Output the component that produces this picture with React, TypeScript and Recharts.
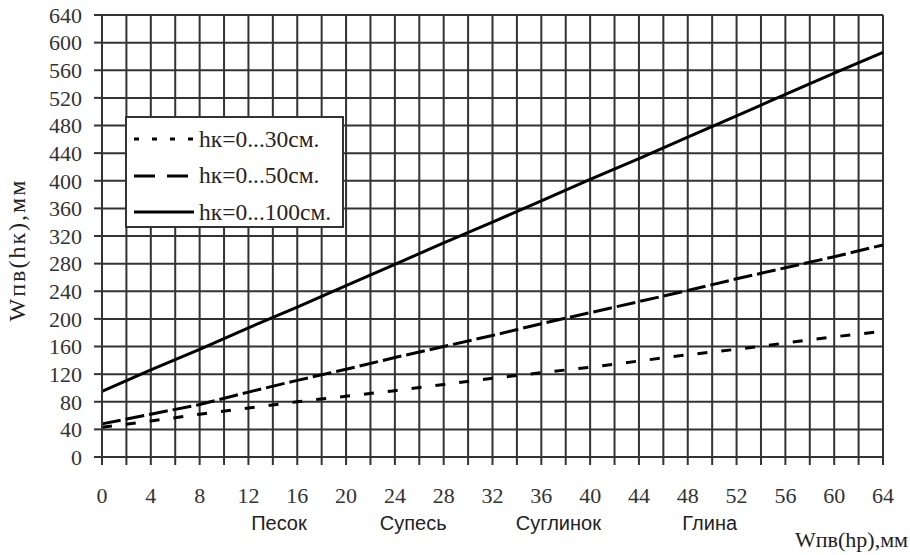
import React from "react";
import {
  LineChart,
  Line,
  XAxis,
  YAxis,
  CartesianGrid,
} from "recharts";

// x values (Wпв(hр), мм) where the curves were read
const xValues = [0, 4, 8, 12, 16, 20, 24, 28, 32, 36, 40, 44, 48, 52, 56, 60, 64];
// hк = 0...30 см
const w30 = [43, 52, 62, 71, 80, 88, 96, 105, 114, 122, 130, 139, 148, 156, 165, 174, 182];
// hк = 0...50 см
const w50 = [48, 62, 76, 94, 111, 127, 144, 160, 176, 193, 209, 225, 241, 258, 274, 290, 307];
// hк = 0...100 см
const w100 = [95, 126, 156, 187, 217, 248, 279, 310, 340, 371, 402, 432, 463, 494, 525, 556, 586];

const xTicks = [
  0, 2, 4, 6, 8, 10, 12, 14, 16, 18, 20, 22, 24, 26, 28, 30, 32,
  34, 36, 38, 40, 42, 44, 46, 48, 50, 52, 54, 56, 58, 60, 62, 64,
];
const yTicks = [0, 40, 80, 120, 160, 200, 240, 280, 320, 360, 400, 440, 480, 520, 560, 600, 640];

const soilNames = ["Песок", "Супесь", "Суглинок", "Глина"];
const soilPositions = [14.5, 25.5, 37.4, 49.8];

const seriesNames = ["hк=0...30см.", "hк=0...50см.", "hк=0...100см."];

const data = xValues.map((x, i) => ({ x, w30: w30[i], w50: w50[i], w100: w100[i] }));

const serif = "'Liberation Serif', 'Times New Roman', serif";
const sans = "'Liberation Sans', Arial, sans-serif";
const gridColor = "#333";

const legendDash = ["5 13", "21 12", undefined];

function LegendBox() {
  return (
    <div
      style={{
        position: "absolute",
        left: 125,
        top: 116,
        width: 215,
        height: 108,
        background: "#fff",
        border: `2px solid ${gridColor}`,
      }}
    >
      {seriesNames.map((name, i) => (
        <div
          key={name}
          style={{
            position: "absolute",
            left: 5,
            top: 6 + i * 36.5,
            height: 30,
            display: "flex",
            alignItems: "center",
          }}
        >
          <svg width={64} height={10} style={{ display: "block" }}>
            <line
              x1={2}
              y1={5}
              x2={i === 2 ? 62 : 64}
              y2={5}
              stroke="#000"
              strokeWidth={3}
              strokeDasharray={legendDash[i]}
            />
          </svg>
          <span
            style={{
              fontFamily: serif,
              fontSize: 23.5,
              color: "#2a2220",
              marginLeft: 3,
              whiteSpace: "nowrap",
            }}
          >
            {name}
          </span>
        </div>
      ))}
    </div>
  );
}

export default function App() {
  return (
    <div
      style={{
        position: "absolute",
        left: 0,
        top: 0,
        width: 910,
        height: 555,
        background: "#fff",
      }}
    >
      <LineChart
        width={910}
        height={555}
        data={data}
        margin={{ top: 15, right: 27, left: 0, bottom: 13 }}
      >
        <CartesianGrid
          stroke={gridColor}
          strokeWidth={2}
          horizontalValues={yTicks}
          verticalValues={xTicks}
        />
        <XAxis
          dataKey="x"
          type="number"
          domain={[0, 64]}
          ticks={xTicks}
          interval={0}
          height={55}
          tickSize={8}
          tickMargin={22}
          axisLine={{ stroke: gridColor, strokeWidth: 2 }}
          tickLine={{ stroke: gridColor, strokeWidth: 2 }}
          tickFormatter={(v: number) => (v % 4 === 0 ? String(v) : "")}
          tick={{ fontFamily: serif, fontSize: 22, fill: "#333" }}
        />
        <XAxis
          xAxisId="soil"
          dataKey="x"
          type="number"
          domain={[0, 64]}
          allowDataOverflow
          ticks={soilPositions}
          interval={0}
          height={30}
          tickSize={0}
          tickMargin={4}
          axisLine={false}
          tickLine={false}
          tickFormatter={(v: number) => soilNames[soilPositions.indexOf(v)] ?? ""}
          tick={{ fontFamily: sans, fontSize: 20, fill: "#222" }}
        />
        <YAxis
          type="number"
          domain={[0, 640]}
          ticks={yTicks}
          interval={0}
          width={102}
          tickSize={8}
          tickMargin={12}
          axisLine={{ stroke: gridColor, strokeWidth: 2 }}
          tickLine={{ stroke: gridColor, strokeWidth: 2 }}
          tick={{ fontFamily: serif, fontSize: 22, fill: "#333" }}
        />
        <Line
          dataKey="w30"
          name={seriesNames[0]}
          stroke="#000"
          strokeWidth={3}
          strokeDasharray="10 14"
          dot={false}
          activeDot={false}
          isAnimationActive={false}
        />
        <Line
          dataKey="w50"
          name={seriesNames[1]}
          stroke="#000"
          strokeWidth={3}
          strokeDasharray="19 5"
          dot={false}
          activeDot={false}
          isAnimationActive={false}
        />
        <Line
          dataKey="w100"
          name={seriesNames[2]}
          stroke="#000"
          strokeWidth={3}
          dot={false}
          activeDot={false}
          isAnimationActive={false}
        />
      </LineChart>
      <LegendBox />
      <div
        style={{
          position: "absolute",
          left: 17,
          top: 250,
          transform: "translate(-50%, -50%) rotate(-90deg)",
          fontFamily: serif,
          fontSize: 24,
          letterSpacing: 2,
          color: "#222",
          whiteSpace: "nowrap",
        }}
      >
        Wпв(hк),мм
      </div>
      <div
        style={{
          position: "absolute",
          right: 2,
          top: 527,
          fontFamily: serif,
          fontSize: 22,
          color: "#222",
          whiteSpace: "nowrap",
        }}
      >
        Wпв(hр),мм
      </div>
    </div>
  );
}
